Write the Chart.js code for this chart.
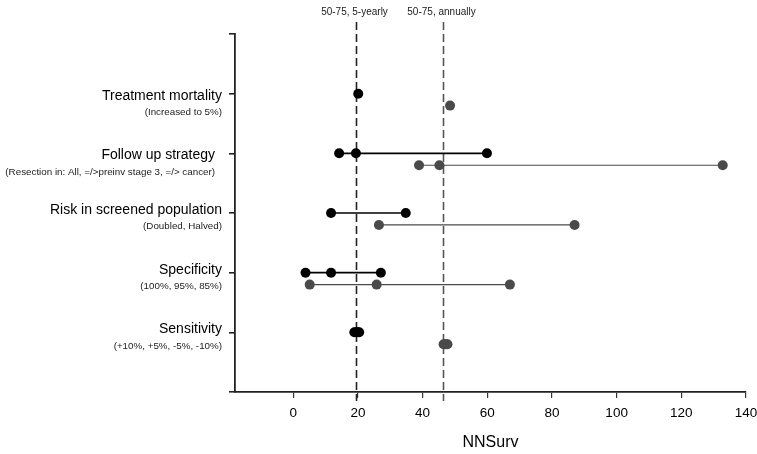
<!DOCTYPE html>
<html>
<head>
<meta charset="utf-8">
<script src="https://cdn.jsdelivr.net/npm/chart.js@4.4.0/dist/chart.umd.min.js"></script>
<style>
html,body{margin:0;padding:0;background:#fff;}
#wrap{width:757px;height:454px;position:relative;}
</style>
</head>
<body>
<div id="wrap"><canvas id="c" width="757" height="454"></canvas></div>
<script>
// Categories (bottom to top, y position = index + 1)
const categories = ["Sensitivity", "Specificity", "Risk in screened population", "Follow up strategy", "Treatment mortality"];
const subLabels = ["(+10%, +5%, -5%, -10%)", "(100%, 95%, 85%)", "(Doubled, Halved)", "(Resection in: All, =/>preinv stage 3, =/> cancer)", "(Increased to 5%)"];

// NNSurv values, 50-75 5-yearly scenario (black)
const fiveYearly = [
  [18.9, 19.4, 20.0, 20.4],
  [3.8, 11.7, 27.1],
  [11.7, 34.8],
  [14.2, 19.4, 59.9],
  [20.1]
];
// NNSurv values, 50-75 annually scenario (grey)
const annually = [
  [46.5, 46.9, 47.3, 47.7],
  [5.1, 25.8, 67.0],
  [26.5, 87.0],
  [38.9, 45.2, 132.8],
  [48.5]
];

// Reference (base case) lines
const refLabels = ["50-75, 5-yearly", "50-75, annually"];
const refValues = [19.3, 46.4];

const xTicks = [0, 20, 40, 60, 80, 100, 120, 140];

const FONT = "'Liberation Sans', Arial, sans-serif";
const BLACK = "#000000";
const GREY = "#4a4a4a";

const datasets = [];
categories.forEach((c, i) => {
  datasets.push({
    label: c + " 5-yearly",
    data: fiveYearly[i].map(v => ({x: v, y: i + 1})),
    showLine: true,
    borderColor: BLACK,
    borderWidth: 1.6,
    backgroundColor: BLACK,
    pointBackgroundColor: BLACK,
    pointBorderColor: BLACK,
    pointRadius: 5,
    pointBorderWidth: 0
  });
  datasets.push({
    label: c + " annually",
    data: annually[i].map(v => ({x: v, y: i + 1 - 0.2})),
    showLine: true,
    borderColor: GREY,
    borderWidth: 1.2,
    backgroundColor: GREY,
    pointBackgroundColor: GREY,
    pointBorderColor: GREY,
    pointRadius: 5,
    pointBorderWidth: 0
  });
});

const overlay = {
  id: 'overlay',
  beforeDatasetsDraw(chart) {
    const ctx = chart.ctx;
    const xs = chart.scales.x;
    ctx.save();
    refValues.forEach((v, i) => {
      const px = Math.round(xs.getPixelForValue(v)) + 0.5;
      ctx.beginPath();
      ctx.setLineDash([8, 4]);
      ctx.lineWidth = 1.6;
      ctx.strokeStyle = i === 0 ? "#222222" : "#555555";
      ctx.moveTo(px, 22);
      ctx.lineTo(px, 401);
      ctx.stroke();
      ctx.setLineDash([]);
      ctx.fillStyle = "#222222";
      ctx.font = "10px " + FONT;
      ctx.textAlign = "center";
      ctx.textBaseline = "middle";
      ctx.fillText(refLabels[i], px - 2, 12);
    });
    ctx.restore();
  },
  afterDraw(chart) {
    const ctx = chart.ctx;
    const ys = chart.scales.y;
    ctx.save();
    ctx.textAlign = "right";
    ctx.textBaseline = "middle";
    categories.forEach((c, i) => {
      const py = ys.getPixelForValue(i + 1);
      const upper = i >= 3;
      const rx = i === 3 ? 215 : 222;
      ctx.fillStyle = "#000";
      ctx.font = "14px " + FONT;
      ctx.fillText(c, rx, py + (upper ? 2 : -3));
      ctx.fillStyle = "#222";
      ctx.font = "9.8px " + FONT;
      ctx.fillText(subLabels[i], rx, py + (upper ? 18.5 : 13.5));
    });
    ctx.restore();
  }
};

new Chart(document.getElementById('c'), {
  type: 'scatter',
  data: {datasets},
  options: {
    responsive: false,
    animation: false,
    layout: {padding: {top: 34, right: 11, left: 0, bottom: 0}},
    plugins: {legend: {display: false}, tooltip: {enabled: false}},
    scales: {
      x: {
        type: 'linear',
        min: -18,
        max: 140,
        afterBuildTicks(scale) { scale.ticks = xTicks.map(v => ({value: v})); },
        afterFit(scale) { scale.height = 62; scale.paddingLeft = 0; scale.paddingRight = 0; },
        grid: {drawOnChartArea: false, drawTicks: true, tickLength: 6, color: "#333", lineWidth: 1.2},
        border: {display: true, color: "#222", width: 1.8},
        ticks: {color: "#000", font: {family: FONT, size: 13.5}, padding: 7, maxRotation: 0},
        title: {display: true, text: "NNSurv", color: "#000", font: {family: FONT, size: 16}, padding: {top: 4, bottom: 1.5}}
      },
      y: {
        type: 'linear',
        min: 0,
        max: 6,
        afterBuildTicks(scale) { scale.ticks = [0,1,2,3,4,5,6].map(v => ({value: v})); },
        afterFit(scale) { scale.width = 235; scale.paddingTop = 0; scale.paddingBottom = 0; },
        grid: {drawOnChartArea: false, drawTicks: true, tickLength: 6, color: "#222", lineWidth: 1.6},
        border: {display: true, color: "#222", width: 1.8},
        ticks: {callback: () => "", padding: 0}
      }
    }
  },
  plugins: [overlay]
});
</script>
</body>
</html>
